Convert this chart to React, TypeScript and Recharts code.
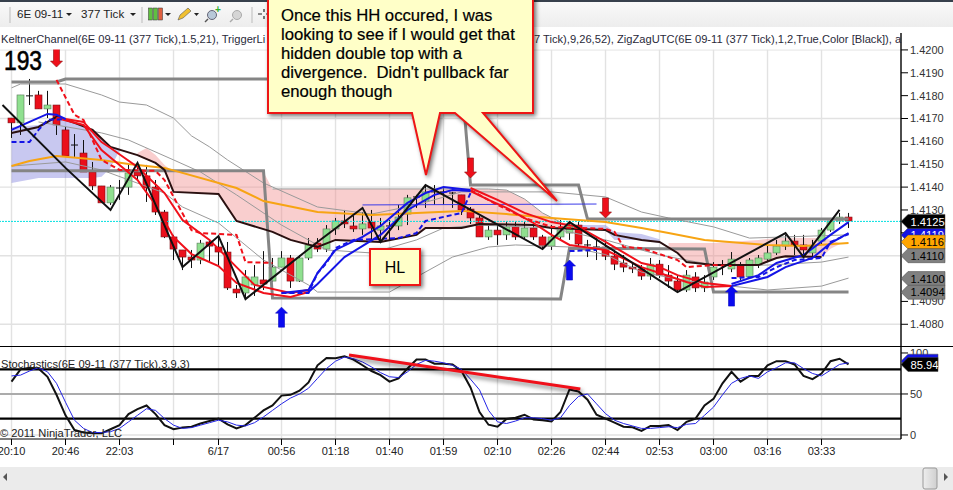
import React from "react";
import {
  ComposedChart, Line, Area, Bar, XAxis, YAxis, CartesianGrid, ReferenceLine, ReferenceDot,
} from "recharts";

// All prices below are in points (0.00001 of the quote).
const PT = 100000;
const opens = [141702,141681,141799,141803,141742,141759,141650,141584,141549,141466,141405,141331,141396,141400,141466,141449,141400,141291,141182,141125,141094,141081,141160,141138,141116,140954,140937,140972,140994,140989,141050,141090,140989,141090,141155,141129,141217,141252,141230,141217,141247,141212,141230,141230,141282,141357,141339,141379,141379,141374,141366,141304,141265,141182,141212,141191,141226,141182,141221,141182,141142,141182,141199,141234,141147,141138,141138,141098,141068,141050,141042,141011,141063,141015,140989,140950,141007,140959,141007,141059,141042,141059,141007,141059,141085,141112,141142,141164,141147,141112,141164,141212,141252,141269];
const highs = [141702,141803,141873,141821,141821,141759,141663,141632,141606,141510,141405,141409,141431,141497,141506,141497,141431,141300,141191,141125,141125,141169,141169,141191,141160,140972,141037,141059,141120,141090,141120,141103,141103,141177,141177,141234,141265,141300,141274,141291,141300,141265,141256,141322,141366,141366,141405,141409,141396,141379,141366,141313,141274,141234,141234,141247,141247,141247,141247,141191,141234,141256,141247,141247,141169,141182,141169,141125,141103,141072,141059,141090,141081,141059,141015,141037,141028,141015,141072,141081,141116,141072,141090,141103,141147,141169,141191,141191,141191,141169,141221,141265,141287,141287];
const lows = [141615,141628,141759,141742,141702,141628,141532,141532,141466,141387,141331,141322,141344,141366,141431,141335,141278,141177,141081,141037,141046,141063,141072,141059,140950,140915,140915,140924,140950,140985,141050,140959,140985,141081,141116,141116,141191,141221,141204,141191,141169,141169,141169,141212,141234,141309,141309,141322,141322,141309,141278,141239,141182,141169,141147,141169,141169,141169,141169,141125,141125,141169,141169,141133,141094,141081,141081,141037,141028,141024,140994,140994,141002,140959,140941,140941,140941,140941,140994,141015,141028,140994,141002,141046,141072,141103,141125,141103,141103,141098,141147,141204,141239,141221];
const closes = [141681,141803,141799,141742,141759,141672,141536,141584,141466,141405,141331,141400,141396,141462,141449,141396,141291,141182,141129,141094,141081,141155,141142,141116,140959,140937,141007,141007,140976,141050,141090,140989,141090,141147,141129,141217,141252,141239,141217,141239,141221,141230,141230,141269,141353,141357,141379,141379,141379,141374,141300,141265,141182,141212,141191,141226,141182,141221,141182,141142,141182,141212,141234,141151,141147,141138,141098,141063,141050,141042,141011,141063,141015,140989,140950,141015,140959,140985,141050,141059,141085,141007,141081,141090,141112,141142,141164,141147,141125,141142,141212,141252,141269,141252];

const stepUpper = [[0,141860],[5,141860],[6,141873],[50,141873],[51,141409],[63,141409],[64,141260],[93,141260]];
const stepLower = [[0,141471],[28,141471],[29,140915],[61,140911],[62,141133],[77,141129],[78,140941],[93,140941]];
const keltnerUpper = [[0,141834],[1,141851],[6,141851],[10,141803],[12,141772],[15,141759],[18,141702],[20,141624],[22,141576],[24,141519],[28,141418],[34,141313],[40,141282],[45,141322],[50,141379],[60,141379],[66,141357],[70,141291],[73,141265],[78,141226],[82,141177],[93,141191]];
const keltnerMid = [[3,141685],[10,141637],[13,141606],[18,141519],[21,141466],[25,141366],[30,141234],[35,141125],[40,141112],[45,141169],[48,141221],[52,141234],[60,141221],[66,141169],[72,141103],[78,141059],[84,141059],[90,141072],[93,141094]];
const keltnerLower = [[0,141492],[6,141510],[10,141475],[17,141374],[19,141313],[23,141243],[28,141081],[33,140972],[34,140941],[42,140941],[45,141007],[49,141094],[53,141138],[56,141147],[62,141138],[66,141105],[70,141028],[75,140990],[80,140967],[84,140950],[90,140967],[93,141002]];
const cloudEdge = [[29,141392],[53,141392],[55,141387],[57,141348],[59,141287],[61,141247]];
const cloudBase = [[0,141637],[3,141663],[5,141707],[7,141681],[9,141650],[11,141576],[14,141540],[16,141506],[17,141475],[18,141379],[23,141370],[25,141252],[29,141204],[31,141169],[34,141138],[36,141169],[41,141160],[45,141191],[46,141221],[50,141221],[52,141239],[58,141234],[60,141221],[66,141212],[67,141191],[70,141169],[72,141160],[74,141112],[75,141072],[78,141059],[83,141059],[85,141090],[86,141098],[90,141094]];
const orangeLine = [[0,141492],[2,141514],[5,141536],[10,141519],[13,141501],[17,141484],[25,141396],[28,141339],[34,141291],[40,141278],[45,141287],[50,141296],[55,141282],[60,141265],[66,141247],[70,141221],[73,141199],[77,141169],[84,141147],[88,141142],[93,141155]];
const redFastA = [[5,141702],[6,141698],[8,141685],[10,141597],[11,141571],[14,141488],[17,141374],[19,141256],[22,141169],[25,141050],[27,140972],[31,140937],[33,140950]];
const redSlowA = [[5,141702],[8,141672],[10,141562],[12,141497],[14,141431],[16,141322],[18,141182],[20,141107],[23,141055],[25,140981],[28,140937],[31,140919],[33,140941]];
const redFastB = [[51,141396],[54,141344],[57,141287],[60,141247],[63,141226],[66,141160],[70,141068],[72,141050],[74,141015],[77,140981],[80,140967]];
const redSlowB = [[51,141383],[53,141344],[55,141309],[58,141243],[60,141191],[62,141147],[66,141125],[70,141050],[72,141024],[75,140985],[77,140963],[80,140967]];
const redDashA = [[5,141869],[7,141716],[8,141694],[10,141519],[12,141475],[16,141471],[17,141431],[20,141212],[21,141199],[25,141191],[26,141072],[29,141068]];
const redDashB = [[51,141387],[54,141322],[57,141265],[60,141226],[66,141217],[67,141204],[68,141138],[70,141133],[72,141107],[74,141081],[75,141050],[78,141059],[80,141055]];
const blueSolidA = [[0,141650],[2,141685],[4,141720],[5,141716],[6,141698]];
const blueDashA = [[0,141597],[2,141597],[3,141650],[4,141694],[6,141698]];
const blueFastB = [[30,140937],[33,140950],[34,141024],[36,141125],[39,141182],[41,141230],[44,141331],[46,141374],[48,141400],[51,141387]];
const blueSlowB = [[33,140941],[34,140976],[37,141094],[41,141191],[44,141300],[47,141366],[49,141387],[51,141383]];
const blueDashB = [[30,140937],[33,140937],[34,141024],[35,141068],[36,141133],[38,141169],[43,141177],[45,141199],[46,141252],[50,141287],[51,141374]];
const blueDashC = [[62,141120],[65,141125]];
const blueFastD = [[80,140976],[83,141015],[85,141068],[88,141103],[91,141191],[93,141247]];
const blueSlowD = [[80,140967],[84,141007],[86,141050],[89,141090],[91,141155],[93,141199]];
const blueDashD = [[80,141002],[83,141007],[85,141050],[87,141081],[90,141090],[91,141160],[93,141195]];
const blueLevel = [[39,141322],[65,141326]];
const zigZag = [[-1,141759],[6,141484],[11,141300],[14,141506],[19,141050],[23,141186],[26,140910],[34,141160],[39,141309],[41,141160],[46,141409],[59,141129],[62,141247],[74,140941],[86,141199],[88,141094],[92,141300]];

// [bar, lower, upper]
const lilacLeft = [[0,141418,141663],[3,141440,141672],[5,141440,141707],[7,141440,141681],[9,141440,141650],[10,141445,141610],[11,141484,141576],[12,141560,141570]];
const pinkMain = [[14,141540,141549],[15,141523,141571],[16,141506,141540],[17,141475,141497],[18,141379,141466],[23,141370,141466],[25,141252,141466],[28,141217,141466],[29,141204,141392],[31,141169,141392],[34,141138,141392],[36,141169,141392],[41,141160,141392],[45,141191,141392],[46,141221,141392],[50,141221,141392],[52,141239,141392],[53,141236,141392],[55,141235,141387],[57,141235,141348],[59,141228,141287],[61,141222,141247],[63,141216,141230]];
const lilacMid = [[63,141212,141234],[66,141212,141234],[67,141169,141204],[70,141169,141195],[72,141155,141172]];
const pinkRight = [[73,141140,141155],[74,141112,141155],[75,141072,141155],[78,141059,141155],[83,141059,141169],[85,141090,141177],[90,141094,141177],[91,141130,141170],[92,141150,141155]];

const stochK = [65,80,82,81,71,49,24,6,3,2,2,7,12,25.5,31.6,36,25.5,12,7,9,10,14,17,20,13,8,12,21,30,36,48,49,54,64,85,94,93.5,96,92,85,78,73,65,69,81,92,92,87,87,86,78,58,28,12.5,10,19.5,21,24.7,19,18,16.6,28,55.5,53,43,24.7,20,15,10,9.3,5,11,11,12,6,16,20,36,44,63,77,65,72,72,85,90,90,86,72,68,75,90,93,86];
const stochD = [72,73,78,82,77,63,40,18,8,3,3,4,8,16,24,32,30,20,12,8,9,12,15,18,16,12,11,15,22,30,38,45,50,57,69,81,90,95,93,89,83,76,71,70,77,86,91,90,88,85,80,68,55,30,16,14,17,21,21,20,18,21,36,47,50,38,26,18,14,11,8,8,9,10,9,13,14,24,34,49,63,69,72,69,77,82,88,88,81,75,72,79,86,88];

const tickBars = [0,6,12,18,23,30,36,42,48,54,60,66,72,78,84,90];
const tickLabels = ["20:10","20:46","22:03","","6/17","00:56","01:18","01:40","01:59","02:10","02:26","02:44","02:53","03:00","03:16","03:33"];
const priceTicks = [1.408,1.409,1.41,1.411,1.412,1.413,1.414,1.415,1.416,1.417,1.418,1.419,1.42];
const priceGrid = [1.408,1.411,1.414,1.417,1.42];
const stochTicks = [0,50,100];
const currentPrice = 1.4125;
const priceTags = [
  { value: 1.4119, fill: "#1414E6", text: "#fff" },
  { value: 1.4116, fill: "#FFA500", text: "#000" },
  { value: 1.4125, fill: "#000", text: "#fff" },
  { value: 1.411, fill: "#808080", text: "#000" },
  { value: 1.41, fill: "#808080", text: "#000" },
  { value: 1.4094, fill: "#808080", text: "#000" },
];
const stochTags = [
  { value: 90, fill: "#1414E6", text: "#1414E6", label: "" },
  { value: 85.94, fill: "#000", text: "#fff", label: "85.94" },
];
const arrowMarks = [
  { bar: 5, price: 1.41925, dir: "down" },
  { bar: 51, price: 1.4144, dir: "down" },
  { bar: 66, price: 1.41265, dir: "down" },
  { bar: 30, price: 1.40875, dir: "up" },
  { bar: 62, price: 1.41081, dir: "up" },
  { bar: 80, price: 1.40967, dir: "up" },
];
const divergence = [{ x: 37.5, y: 97.5 }, { x: 63.2, y: 56 }];

const calloutLines = [
  "Once this HH occured, I was",
  "looking to see if I would get that",
  "hidden double top with a",
  "divergence.  Didn't pullback far",
  "enough though",
];

// ---------- tables built from the arrays
const priceRows: any[] = [{ bar: -1 }];
opens.forEach((o, i) => priceRows.push({
  bar: i, open: o / PT, high: highs[i] / PT, low: lows[i] / PT, close: closes[i] / PT,
  range: [lows[i] / PT, highs[i] / PT],
}));
const rowAt = (b: number) => priceRows[b + 1];
const addLine = (key: string, pairs: number[][]) => pairs.forEach(([b, v]) => { rowAt(b)[key] = v / PT; });
const addBand = (key: string, trip: number[][]) => trip.forEach(([b, lo, hi]) => { rowAt(b)[key] = [lo / PT, hi / PT]; });

const thin = { stroke: "#9a9a9a", width: 1 };
const lineDefs: any[] = [
  ["keltnerUpper", keltnerUpper, thin],
  ["keltnerMid", keltnerMid, thin],
  ["keltnerLower", keltnerLower, thin],
  ["cloudEdge", cloudEdge, thin],
  ["stepUpper", stepUpper, { stroke: "#858585", width: 3 }],
  ["stepLower", stepLower, { stroke: "#858585", width: 3 }],
];
const topLineDefs: any[] = [
  ["blueLevel", blueLevel, { stroke: "#3a3ae8", width: 1 }],
  ["orangeLine", orangeLine, { stroke: "#F7A413", width: 2 }],
  ["cloudBase", cloudBase, { stroke: "#2a1010", width: 2 }],
  ["redFastA", redFastA, { stroke: "#F0101A", width: 2 }],
  ["redSlowA", redSlowA, { stroke: "#F0101A", width: 2 }],
  ["redFastB", redFastB, { stroke: "#F0101A", width: 2 }],
  ["redSlowB", redSlowB, { stroke: "#F0101A", width: 2 }],
  ["redDashA", redDashA, { stroke: "#F0101A", width: 2, dash: "5 3" }],
  ["redDashB", redDashB, { stroke: "#F0101A", width: 2, dash: "5 3" }],
  ["blueSolidA", blueSolidA, { stroke: "#1414E6", width: 2 }],
  ["blueDashA", blueDashA, { stroke: "#1414E6", width: 2, dash: "5 3" }],
  ["blueFastB", blueFastB, { stroke: "#1414E6", width: 2 }],
  ["blueSlowB", blueSlowB, { stroke: "#1414E6", width: 2 }],
  ["blueDashB", blueDashB, { stroke: "#1414E6", width: 2, dash: "5 3" }],
  ["blueDashC", blueDashC, { stroke: "#1414E6", width: 2, dash: "5 3" }],
  ["blueFastD", blueFastD, { stroke: "#1414E6", width: 2 }],
  ["blueSlowD", blueSlowD, { stroke: "#1414E6", width: 2 }],
  ["blueDashD", blueDashD, { stroke: "#1414E6", width: 2, dash: "5 3" }],
  ["zigZag", zigZag, { stroke: "#111", width: 2 }],
];
[...lineDefs, ...topLineDefs].forEach(([k, p]) => addLine(k, p));
const bandDefs: any[] = [
  ["lilacLeft", lilacLeft, "#7C7CDC", 0.42],
  ["pinkMain", pinkMain, "#F08A8A", 0.42],
  ["lilacMid", lilacMid, "#7C7CDC", 0.42],
  ["pinkRight", pinkRight, "#F08A8A", 0.42],
];
bandDefs.forEach(([k, t]) => addBand(k, t));

const stochRows = stochK.map((k, i) => ({ bar: i, k, d: stochD[i] }));

// ---------- layout
const FONT = "'Liberation Sans', Arial, sans-serif";
const PLOT_RIGHT = 52;
const LABEL_SIZE = 11.15;
const xDomain: [number, number] = [-1.278, 98.83];
const priceDomain: [number, number] = [1.40705, 1.42074];
const stochDomain: [number, number] = [-4.9, 108.5];

const Candle = (p: any) => {
  const { x, y, width, height, payload } = p;
  if (!payload || payload.high == null || !height) return null;
  const cx = x + width / 2;
  const span = payload.high - payload.low;
  const toY = (v: number) => y + ((payload.high - v) / span) * height;
  const top = toY(Math.max(payload.open, payload.close));
  const bot = toY(Math.min(payload.open, payload.close));
  const up = payload.close > payload.open;
  const flat = bot - top < 1;
  return (
    <g>
      <line x1={cx} x2={cx} y1={y} y2={y + height} stroke="#111" strokeWidth={1} />
      {flat ? (
        <line x1={cx - 3.5} x2={cx + 3.5} y1={top} y2={top} stroke="#111" strokeWidth={1} />
      ) : (
        <rect x={cx - 3.5} y={top} width={7} height={bot - top}
          fill={up ? "#8FE08F" : "#EA0F1B"} stroke={up ? "#5a7a5a" : "#7a1015"} strokeWidth={0.6} />
      )}
    </g>
  );
};

const Arrow = (p: any) => {
  const { cx, cy, dir } = p;
  const s = dir === "down" ? -1 : 1;
  const pts = [[0,0],[6,6],[3,6],[3,20],[-3,20],[-3,6],[-6,6]]
    .map(([a, b]) => `${cx + a},${cy + s * b}`).join(" ");
  return <polygon points={pts} fill={dir === "down" ? "#EE0F1A" : "#0A0AF0"}
    stroke={dir === "down" ? "#8a1010" : "#0A0AC0"} strokeWidth={0.6} />;
};

const Tag = (p: any) => {
  const { cx, cy, fill, text, label, right } = p;
  const r = right ?? 945;
  return (
    <g>
      <polygon points={`${cx},${cy} ${cx + 7},${cy - 7} ${r},${cy - 7} ${r},${cy + 7} ${cx + 7},${cy + 7}`} fill={fill} stroke="#444" strokeWidth={0.5} />
      <text x={cx + 9.5} y={cy + 4.2} fontSize={11.2} fontFamily={FONT} fill={text}>{label}</text>
    </g>
  );
};

const Overlay = () => (
  <svg width={953} height={490} style={{ position: "absolute", left: 0, top: 0, pointerEvents: "none" }}>
    <defs>
      <linearGradient id="tb" x1="0" y1="0" x2="0" y2="1">
        <stop offset="0" stopColor="#FAFAFA" />
        <stop offset="1" stopColor="#EDEDED" />
      </linearGradient>
      <linearGradient id="thumb" x1="0" y1="0" x2="1" y2="0">
        <stop offset="0" stopColor="#EEE" />
        <stop offset="1" stopColor="#CFCFCF" />
      </linearGradient>
    </defs>
    {/* toolbar */}
    <rect x={0} y={0} width={953} height={27} fill="url(#tb)" />
    <rect x={0} y={0} width={953} height={2} fill="#37404C" />
    <rect x={0} y={27} width={900} height={22.5} fill="#fff" />
    <rect x={902} y={27} width={51} height={6} fill="#fff" />
    <line x1={10} x2={10} y1={7} y2={23} stroke="#bbb" />
    <text x={17} y={18} fontSize={11.6} fontFamily={FONT} fill="#222">6E 09-11</text>
    <polygon points="66,13 72,13 69,16" fill="#222" />
    <text x={81} y={18} fontSize={11.6} fontFamily={FONT} fill="#222">377 Tick</text>
    <polygon points="130,13 136,13 133,16" fill="#222" />
    <line x1={142} x2={142} y1={7} y2={23} stroke="#bbb" />
    {[150, 155, 160].map((x, i) => (
      <rect key={x} x={x - 1.5} y={8} width={4} height={12} fill={i === 2 ? "#E06040" : "#60C040"} stroke="#333" strokeWidth={0.5} />
    ))}
    <polygon points="165,13 171,13 168,16" fill="#222" />
    <polygon points="178,20 180,15 188,8 191,11 183,18" fill="#F0C030" stroke="#555" strokeWidth={0.6} />
    <polygon points="194,13 199,13 196.5,16" fill="#222" />
    <circle cx={212} cy={15} r={4.5} fill="#B8C8D8" stroke="#667" />
    <line x1={208} x2={205} y1={19} y2={22} stroke="#555" strokeWidth={1.5} />
    <text x={215} y={13} fontSize={10} fontWeight={700} fontFamily={FONT} fill="#30B030">+</text>
    <circle cx={237} cy={15} r={4.5} fill="#D5D5D5" stroke="#AAA" />
    <line x1={233} x2={230} y1={19} y2={22} stroke="#AAA" strokeWidth={1.5} />
    <line x1={252} x2={252} y1={7} y2={23} stroke="#bbb" />
    <path d="M258 14h4M266 14h2M264 9v3M264 16v3" stroke="#222" strokeWidth={1.2} />

    {/* header labels */}
    <text x={1} y={43} fontSize={LABEL_SIZE} fontFamily={FONT} fill="#2a2a3a">KeltnerChannel(6E 09-11 (377 Tick),1.5,21), TriggerLi</text>
    <text x={534} y={43} fontSize={LABEL_SIZE} fontFamily={FONT} fill="#2a2a3a">7 Tick),9,26,52), ZigZagUTC(6E 09-11 (377 Tick),1,2,True,Color [Black]), a</text>
    <text x={4} y={70} fontSize={27} fontFamily={FONT} textLength={38} lengthAdjust="spacingAndGlyphs" fill="#000" stroke="#000" strokeWidth={0.6}>193</text>

    {/* stochastics panel texts and frame */}
    <line x1={0} x2={953} y1={346.5} y2={346.5} stroke="#000" strokeWidth={1.2} />
    <text x={1} y={368} fontSize={LABEL_SIZE} fontFamily={FONT} fill="#222">Stochastics(6E 09-11 (377 Tick),3,9,3)</text>
    <text x={0} y={437} fontSize={LABEL_SIZE} fontFamily={FONT} fill="#222">© 2011 NinjaTrader, LLC</text>

    {/* scroll bar */}
    <rect x={0} y={467} width={953} height={23} fill="#EBEBEB" />
    <polygon points="3,477 7,473 7,481" fill="#555" />
    <rect x={923} y={468} width={14} height={21} rx={2} fill="url(#thumb)" stroke="#999" />
    <polygon points="948,477 944,473 944,481" fill="#555" />

    {/* callouts */}
    <g style={{ filter: "drop-shadow(2px 2px 2px rgba(0,0,0,.55))" }}>
      <path d="M268,-6 L533,-6 L533,113 L483,113 L557,201 L455,113 L440,113 L426,175 L412,113 L268,113 Z"
        fill="#FFFFC8" stroke="#EE1515" strokeWidth={2} />
    </g>
    {calloutLines.map((t, i) => (
      <text key={i} x={281} y={21 + i * 19} fontSize={16.7} fontFamily={FONT} fill="#000" stroke="#000" strokeWidth={0.2} style={{ whiteSpace: "pre" }}>{t}</text>
    ))}
    <g style={{ filter: "drop-shadow(2px 2px 2px rgba(0,0,0,.55))" }}>
      <rect x={370} y={249} width={50} height={36} fill="#FFFFC8" stroke="#EE1515" strokeWidth={2} />
    </g>
    <text x={395} y={273} fontSize={16} fontFamily={FONT} textAnchor="middle" fill="#000">HL</text>
  </svg>
);

export default function App() {
  return (
    <div style={{ position: "absolute", left: 0, top: 0, width: 953, height: 490, background: "#fff", overflow: "hidden" }}>
      <div style={{ position: "absolute", left: 0, top: 33 }}>
        <ComposedChart width={953} height={313} data={priceRows} margin={{ top: 0, right: 0, bottom: 0, left: 0 }}>
          <CartesianGrid stroke="#e2e2e2" strokeWidth={1.4} verticalValues={tickBars} horizontalValues={priceGrid} />
          <XAxis type="number" dataKey="bar" domain={xDomain} hide allowDataOverflow />
          <YAxis orientation="right" width={PLOT_RIGHT} domain={priceDomain} allowDataOverflow ticks={priceTicks} interval={0}
            tickFormatter={(v: number) => v.toFixed(4)} tickSize={7} tick={{ fontSize: 11, fill: "#333", fontFamily: FONT }}
            axisLine={{ stroke: "#000", strokeWidth: 1.4 }} tickLine={{ stroke: "#000" }} />
          <ReferenceLine y={currentPrice} stroke="#00E0E0" strokeDasharray="2 1" strokeWidth={1} />
          {lineDefs.map(([k, , s]) => (
            <Line key={k} dataKey={k} type="linear" dot={false} connectNulls isAnimationActive={false} stroke={s.stroke} strokeWidth={s.width} />
          ))}
          <Bar dataKey="range" barSize={7} shape={Candle} isAnimationActive={false} />
          {bandDefs.map(([k, , fill, op]) => (
            <Area key={k} dataKey={k} type="linear" connectNulls isAnimationActive={false} fill={fill} fillOpacity={op} stroke="none" dot={false} activeDot={false} />
          ))}
          {topLineDefs.map(([k, , s]) => (
            <Line key={k} dataKey={k} type="linear" dot={false} connectNulls isAnimationActive={false} stroke={s.stroke} strokeWidth={s.width} strokeDasharray={s.dash} />
          ))}
          {arrowMarks.map((a, i) => (
            <ReferenceDot key={i} x={a.bar} y={a.price} ifOverflow="visible" shape={(p: any) => <Arrow {...p} dir={a.dir} />} />
          ))}
        </ComposedChart>
      </div>
      <div style={{ position: "absolute", left: 0, top: 346 }}>
        <ComposedChart width={953} height={120} data={stochRows} margin={{ top: 0, right: 0, bottom: 0, left: 0 }}>
          <CartesianGrid stroke="#e2e2e2" strokeWidth={1.4} verticalValues={tickBars} horizontalValues={[0]} />
          <XAxis type="number" dataKey="bar" domain={xDomain} allowDataOverflow ticks={tickBars} interval={0} height={27}
            tickFormatter={(v: number) => tickLabels[tickBars.indexOf(v)]} tickSize={6}
            tick={{ fontSize: 11, fill: "#222", fontFamily: FONT }} axisLine={{ stroke: "#000" }} tickLine={{ stroke: "#000" }} />
          <YAxis orientation="right" width={PLOT_RIGHT} domain={stochDomain} allowDataOverflow ticks={stochTicks} interval={0}
            tickSize={7} tick={{ fontSize: 11, fill: "#333", fontFamily: FONT }}
            axisLine={{ stroke: "#000", strokeWidth: 1.4 }} tickLine={{ stroke: "#000" }} />
          <ReferenceLine y={50} stroke="#ababab" strokeWidth={2} />
          <ReferenceLine y={80} stroke="#000" strokeWidth={2.4} />
          <ReferenceLine y={20} stroke="#000" strokeWidth={2.4} />
          <Line dataKey="k" type="linear" dot={false} isAnimationActive={false} stroke="#111" strokeWidth={2} />
          <Line dataKey="d" type="linear" dot={false} isAnimationActive={false} stroke="#2424E6" strokeWidth={1} />
          <ReferenceLine segment={divergence} stroke="#F0101A" strokeWidth={3} ifOverflow="visible"
            style={{ filter: "drop-shadow(2px 3px 2px rgba(0,0,0,.5))" }} />
        </ComposedChart>
      </div>
      {/* value tags sit above the axis labels: transparent charts sharing the same scales */}
      <div style={{ position: "absolute", left: 0, top: 33 }}>
        <ComposedChart width={953} height={313} data={priceRows} margin={{ top: 0, right: PLOT_RIGHT, bottom: 0, left: 0 }}>
          <XAxis type="number" dataKey="bar" domain={xDomain} hide allowDataOverflow />
          <YAxis domain={priceDomain} hide allowDataOverflow />
          {priceTags.map((t) => (
            <ReferenceDot key={t.value} x={xDomain[1]} y={t.value} ifOverflow="visible"
              shape={(p: any) => <Tag {...p} fill={t.fill} text={t.text} label={t.value.toFixed(4)} />} />
          ))}
        </ComposedChart>
      </div>
      <div style={{ position: "absolute", left: 0, top: 346 }}>
        <ComposedChart width={953} height={93} data={stochRows} margin={{ top: 0, right: PLOT_RIGHT, bottom: 0, left: 0 }}>
          <XAxis type="number" dataKey="bar" domain={xDomain} hide allowDataOverflow />
          <YAxis domain={stochDomain} hide allowDataOverflow />
          {stochTags.map((t) => (
            <ReferenceDot key={t.value} x={xDomain[1]} y={t.value} ifOverflow="visible"
              shape={(p: any) => <Tag {...p} fill={t.fill} text={t.text} label={t.label} right={938} />} />
          ))}
        </ComposedChart>
      </div>
      <Overlay />
    </div>
  );
}
